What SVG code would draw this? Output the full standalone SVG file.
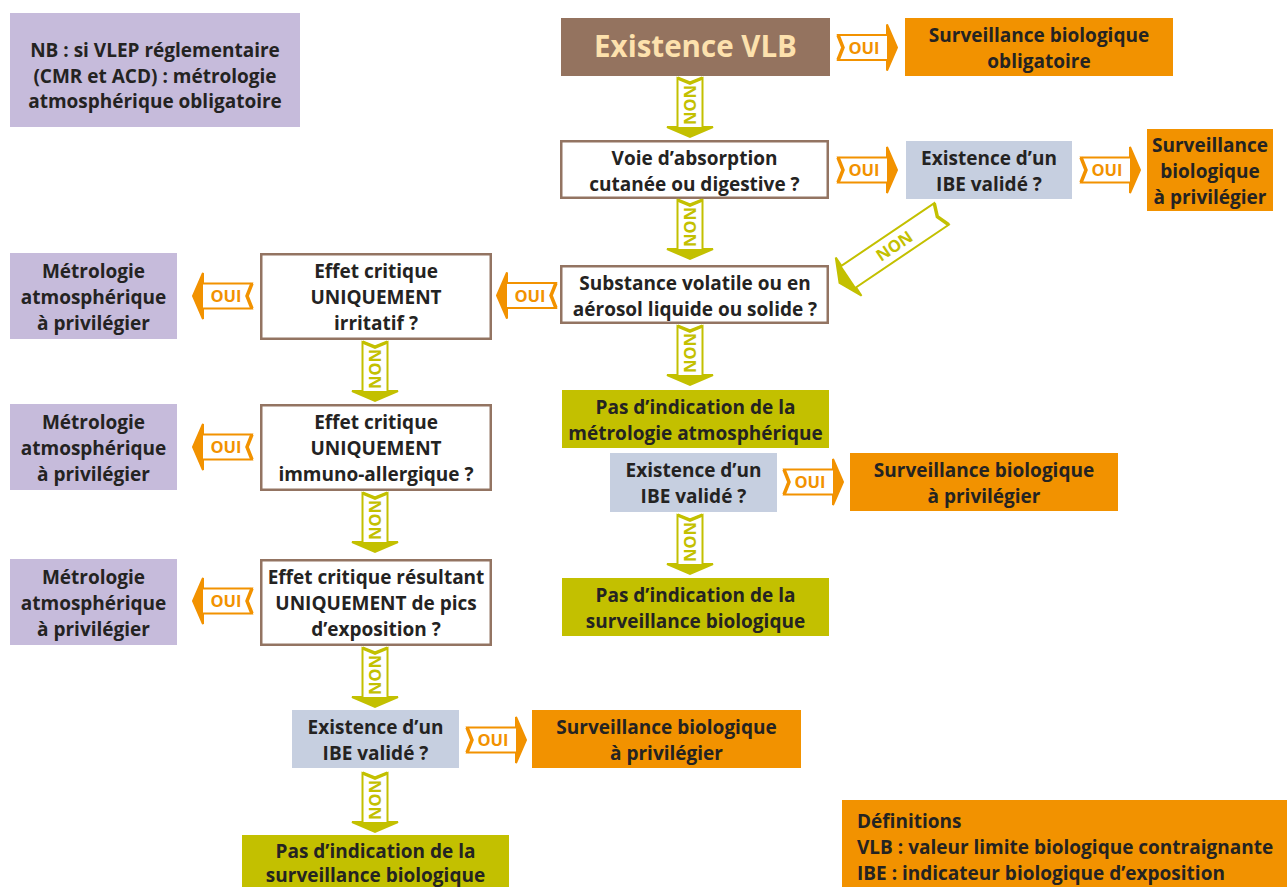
<svg xmlns="http://www.w3.org/2000/svg" xmlns:xlink="http://www.w3.org/1999/xlink" width="1287" height="887" viewBox="0 0 1287 887">
<style>
text{font-family:"Open Sans",Lato,"Liberation Sans",sans-serif;font-weight:700;}
.t{font-size:19px;fill:#242322;text-anchor:middle;}
.tl{font-size:19px;fill:#242322;text-anchor:start;}
.purple{fill:#c6bbdb;}
.orange{fill:#f29200;}
.blue{fill:#c6cfe0;}
.olive{fill:#c3c000;}
.q{fill:#fff;stroke:#937462;stroke-width:2.5;}
.oui{color:#f29200;}
.non{color:#c3c000;}
.lo{font-size:16.5px;fill:#f29200;text-anchor:middle;}
.ln{font-size:16.5px;fill:#c3c000;text-anchor:middle;}
</style>
<defs>
<g id="ar">
<path d="M0,-12.5 H49 V-23 L59,0 L49,23 V12.5 H0 L5,0 Z" fill="#fff" stroke="currentColor" stroke-width="2"/>
<path d="M49,-23 L59,0 L49,23 Z" fill="currentColor"/>
<path d="M0,-12.5 L5,0 L0,12.5" fill="none" stroke="currentColor" stroke-width="3.5"/>
</g>
</defs>
<rect width="1287" height="887" fill="#fff"/>

<g id="nb"><rect class="purple" x="10" y="13" width="290" height="114"/>
<text class="t" x="155" y="57">NB : si VLEP réglementaire</text>
<text class="t" x="155" y="83">(CMR et ACD) : métrologie</text>
<text class="t" x="155" y="108">atmosphérique obligatoire</text></g>

<g id="vlb"><rect x="561" y="18" width="269" height="58" fill="#94735f"/>
<text x="695.5" y="57" style="font-size:29.5px;fill:#fde1ad;text-anchor:middle">Existence VLB</text></g>

<g id="sbo"><rect class="orange" x="905" y="18" width="268" height="58"/>
<text class="t" x="1039" y="42">Surveillance biologique</text>
<text class="t" x="1039" y="68">obligatoire</text></g>

<g id="voie"><rect class="q" x="561.25" y="141.25" width="266.5" height="56.5"/>
<text class="t" x="694.5" y="164.5">Voie d’absorption</text>
<text class="t" x="694.5" y="190.5">cutanée ou digestive ?</text></g>

<g id="ibe1"><rect class="blue" x="906" y="141" width="166" height="58"/>
<text class="t" x="989" y="165">Existence d’un</text>
<text class="t" x="989" y="191">IBE validé ?</text></g>

<g id="sbp1"><rect class="orange" x="1147" y="129" width="126" height="82"/>
<text class="t" x="1210" y="152">Surveillance</text>
<text class="t" x="1210" y="178">biologique</text>
<text class="t" x="1210" y="204">à privilégier</text></g>

<g id="subst"><rect class="q" x="561.25" y="266.25" width="266.5" height="56.5"/>
<text class="t" x="695" y="290">Substance volatile ou en</text>
<text class="t" x="695" y="316">aérosol liquide ou solide ?</text></g>

<g id="irrit"><rect class="q" x="261.25" y="254.25" width="229.5" height="84.5"/>
<text class="t" x="376" y="278">Effet critique</text>
<text class="t" x="376" y="304">UNIQUEMENT</text>
<text class="t" x="376" y="330">irritatif ?</text></g>

<g id="metro1"><rect class="purple" x="10" y="253" width="167" height="86"/>
<text class="t" x="93.5" y="278">Métrologie</text>
<text class="t" x="93.5" y="304">atmosphérique</text>
<text class="t" x="93.5" y="330">à privilégier</text></g>

<g id="pasmetro"><rect class="olive" x="562" y="390" width="267" height="58"/>
<text class="t" x="695.5" y="414">Pas d’indication de la</text>
<text class="t" x="695.5" y="440">métrologie atmosphérique</text></g>

<g id="ibe2"><rect class="blue" x="610" y="453" width="167" height="59"/>
<text class="t" x="693.5" y="477">Existence d’un</text>
<text class="t" x="693.5" y="503">IBE validé ?</text></g>

<g id="sbp2"><rect class="orange" x="850" y="453" width="268" height="58"/>
<text class="t" x="984" y="477">Surveillance biologique</text>
<text class="t" x="984" y="503">à privilégier</text></g>

<g id="pasbio1"><rect class="olive" x="562" y="578" width="267" height="58"/>
<text class="t" x="695.5" y="602">Pas d’indication de la</text>
<text class="t" x="695.5" y="628">surveillance biologique</text></g>

<g id="immuno"><rect class="q" x="261.25" y="405.25" width="229.5" height="84.5"/>
<text class="t" x="376" y="429">Effet critique</text>
<text class="t" x="376" y="455">UNIQUEMENT</text>
<text class="t" x="376" y="481">immuno-allergique ?</text></g>

<g id="metro2"><rect class="purple" x="10" y="404" width="167" height="86"/>
<text class="t" x="93.5" y="429">Métrologie</text>
<text class="t" x="93.5" y="455">atmosphérique</text>
<text class="t" x="93.5" y="481">à privilégier</text></g>

<g id="pics"><rect class="q" x="261.25" y="560.25" width="229.5" height="84.5"/>
<text class="t" x="376" y="584">Effet critique résultant</text>
<text class="t" x="376" y="610">UNIQUEMENT de pics</text>
<text class="t" x="376" y="636">d’exposition ?</text></g>

<g id="metro3"><rect class="purple" x="10" y="559" width="167" height="86"/>
<text class="t" x="93.5" y="584">Métrologie</text>
<text class="t" x="93.5" y="610">atmosphérique</text>
<text class="t" x="93.5" y="636">à privilégier</text></g>

<g id="ibe3"><rect class="blue" x="292" y="710" width="167" height="58"/>
<text class="t" x="375.5" y="734">Existence d’un</text>
<text class="t" x="375.5" y="760">IBE validé ?</text></g>

<g id="sbp3"><rect class="orange" x="532" y="710" width="269" height="58"/>
<text class="t" x="666.5" y="734">Surveillance biologique</text>
<text class="t" x="666.5" y="760">à privilégier</text></g>

<g id="pasbio2"><rect class="olive" x="242" y="835" width="267" height="60"/>
<text class="t" x="375.5" y="858">Pas d’indication de la</text>
<text class="t" x="375.5" y="882">surveillance biologique</text></g>

<g id="definitions"><rect class="orange" x="842" y="800" width="450" height="90"/>
<text class="tl" x="857" y="828">Définitions</text>
<text class="tl" x="857" y="854">VLB : valeur limite biologique contraignante</text>
<text class="tl" x="857" y="880">IBE : indicateur biologique d’exposition</text></g>

<g id="connectors">
<g class="oui" transform="translate(838,47.5)"><use href="#ar"/><text class="lo" x="26" y="6">OUI</text></g>
<g class="oui" transform="translate(838,170)"><use href="#ar"/><text class="lo" x="26" y="6">OUI</text></g>
<g class="oui" transform="translate(1081,170)"><use href="#ar"/><text class="lo" x="26" y="6">OUI</text></g>
<g class="oui" transform="translate(784,482)"><use href="#ar"/><text class="lo" x="26" y="6">OUI</text></g>
<g class="oui" transform="translate(467,740)"><use href="#ar"/><text class="lo" x="26" y="6">OUI</text></g>
<g class="oui" transform="translate(556,295.5)"><use href="#ar" transform="scale(-1,1)"/><text class="lo" x="-26" y="6">OUI</text></g>
<g class="oui" transform="translate(252,296)"><use href="#ar" transform="scale(-1,1)"/><text class="lo" x="-26" y="6">OUI</text></g>
<g class="oui" transform="translate(252,447)"><use href="#ar" transform="scale(-1,1)"/><text class="lo" x="-26" y="6">OUI</text></g>
<g class="oui" transform="translate(252,601)"><use href="#ar" transform="scale(-1,1)"/><text class="lo" x="-26" y="6">OUI</text></g>

<g class="non" transform="translate(690,78) rotate(90)"><use href="#ar"/><text class="ln" x="27" y="6">NON</text></g>
<g class="non" transform="translate(690,200) rotate(90)"><use href="#ar"/><text class="ln" x="27" y="6">NON</text></g>
<g class="non" transform="translate(690,326) rotate(90)"><use href="#ar"/><text class="ln" x="27" y="6">NON</text></g>
<g class="non" transform="translate(690,515) rotate(90)"><use href="#ar"/><text class="ln" x="27" y="6">NON</text></g>
<g class="non" transform="translate(375,342) rotate(90)"><use href="#ar"/><text class="ln" x="27" y="6">NON</text></g>
<g class="non" transform="translate(375,493) rotate(90)"><use href="#ar"/><text class="ln" x="27" y="6">NON</text></g>
<g class="non" transform="translate(375,648) rotate(90)"><use href="#ar"/><text class="ln" x="27" y="6">NON</text></g>
<g class="non" transform="translate(375,773) rotate(90)"><use href="#ar"/><text class="ln" x="27" y="6">NON</text></g>

<g class="non" transform="translate(941.5,214) rotate(146)">
<path d="M0,-13 H112 V-23 L123,0 L112,23 V13 H0 L5,0 Z" fill="#fff" stroke="currentColor" stroke-width="2"/>
<path d="M112,-23 L123,0 L112,23 Z" fill="currentColor"/>
<path d="M0,-13 L5,0 L0,13" fill="none" stroke="currentColor" stroke-width="3.5"/>
<text class="ln" transform="translate(57,0) rotate(180)" y="6">NON</text>
</g>
</g>
</svg>
